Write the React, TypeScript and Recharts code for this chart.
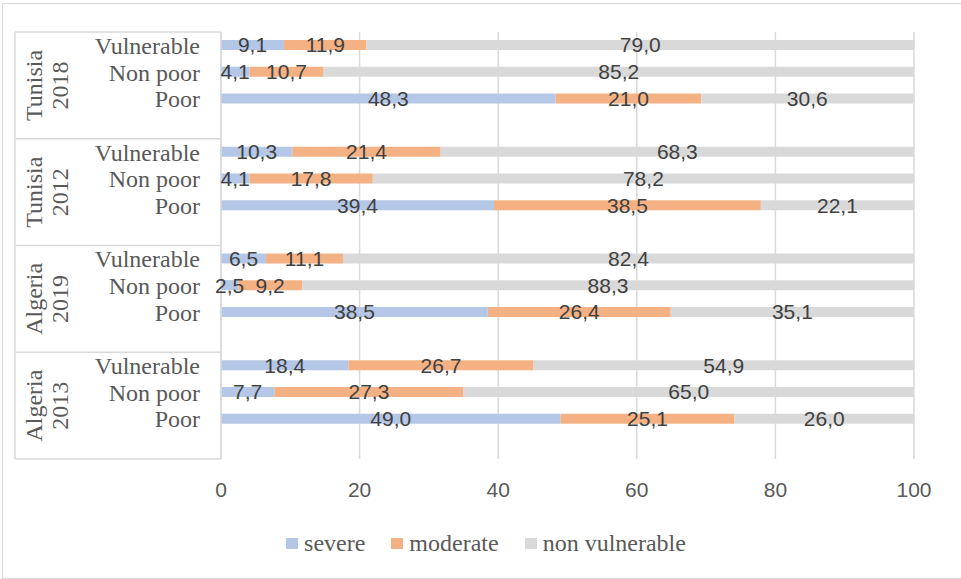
import React from 'react';
import { BarChart, Bar, XAxis, YAxis, CartesianGrid, Legend, LabelList } from 'recharts';

const groups = ['Tunisia 2018', 'Tunisia 2012', 'Algeria 2019', 'Algeria 2013'];
const rowLabels = ['Vulnerable', 'Non poor', 'Poor'];

// per group: Vulnerable, Non poor, Poor
const severe = [
  [9.1, 4.1, 48.3],
  [10.3, 4.1, 39.4],
  [6.5, 2.5, 38.5],
  [18.4, 7.7, 49.0],
];
const moderate = [
  [11.9, 10.7, 21.0],
  [21.4, 17.8, 38.5],
  [11.1, 9.2, 26.4],
  [26.7, 27.3, 25.1],
];
const nonVulnerable = [
  [79.0, 85.2, 30.6],
  [68.3, 78.2, 22.1],
  [82.4, 88.3, 35.1],
  [54.9, 65.0, 26.0],
];
const xTicks = [0, 20, 40, 60, 80, 100];

const seriesColors = { severe: '#B4C7E7', moderate: '#F4B183', nonVulnerable: '#D9D9D9' };

type Row = {
  key: string;
  label: string;
  group: number;
  pos: number; // 0..3, 3 = blank spacer row
  severe: number | null;
  moderate: number | null;
  nonVulnerable: number | null;
};

const rows: Row[] = [];
groups.forEach((g, gi) => {
  rowLabels.forEach((r, ri) => {
    rows.push({
      key: `${g}-${r}`,
      label: r,
      group: gi,
      pos: ri,
      severe: severe[gi][ri],
      moderate: moderate[gi][ri],
      nonVulnerable: nonVulnerable[gi][ri],
    });
  });
  rows.push({ key: `${g}-blank`, label: '', group: gi, pos: 3, severe: null, moderate: null, nonVulnerable: null });
});

const W = 961;
const H = 579;
const PLOT_TOP = 32;
const PLOT_H = 427;
const AXIS_W = 221;
const BOX_LEFT = 15;
const halfBand = PLOT_H / rows.length / 2;
const SERIF = "'Liberation Serif', 'Times New Roman', serif";
const SANS = "'Liberation Sans', Arial, sans-serif";

const fmt = (v: any) => (v == null ? '' : Number(v).toFixed(1).replace('.', ','));

const CategoryTick = (props: any) => {
  const { y, payload } = props;
  const row = rows[payload.index];
  if (!row) return null;
  const items: React.ReactNode[] = [];
  if (row.label) {
    items.push(
      <text key="t" x={200} y={y} dy={8.5} textAnchor="end" fontFamily={SERIF} fontSize={24} fill="#595959">
        {row.label}
      </text>
    );
  }
  if (row.pos === 0) {
    const top = y - halfBand;
    const bottom = top + halfBand * 8;
    const mid = (top + bottom) / 2;
    const [name, year] = groups[row.group].split(' ');
    items.push(<line key="top" x1={BOX_LEFT} x2={AXIS_W} y1={top} y2={top} stroke="#D9D9D9" strokeWidth={1.5} />);
    items.push(<line key="left" x1={BOX_LEFT} x2={BOX_LEFT} y1={top} y2={bottom} stroke="#D9D9D9" strokeWidth={1.5} />);
    items.push(
      <text key="g1" x={42} y={mid} transform={`rotate(-90 42 ${mid})`} textAnchor="middle" fontFamily={SERIF} fontSize={24} fill="#595959">
        {name}
      </text>
    );
    items.push(
      <text key="g2" x={68} y={mid} transform={`rotate(-90 68 ${mid})`} textAnchor="middle" fontFamily={SERIF} fontSize={24} fill="#595959">
        {year}
      </text>
    );
  }
  if (payload.index === rows.length - 1) {
    const b = y + halfBand;
    items.push(<line key="bot" x1={BOX_LEFT} x2={AXIS_W} y1={b} y2={b} stroke="#D9D9D9" strokeWidth={1.5} />);
  }
  return <g>{items}</g>;
};

const ValueTick = (props: any) => {
  const { x, y, payload } = props;
  return (
    <text x={x} y={y} dy={30} textAnchor="middle" fontFamily={SANS} fontSize={21} fill="#595959">
      {payload.value}
    </text>
  );
};

const legendItems = [
  { name: 'severe', color: seriesColors.severe },
  { name: 'moderate', color: seriesColors.moderate },
  { name: 'non vulnerable', color: seriesColors.nonVulnerable },
];

const LegendContent = () => (
  <div style={{ height: 32, display: 'flex', justifyContent: 'center', alignItems: 'center', gap: 26, paddingLeft: 58, fontFamily: SERIF }}>
    {legendItems.map((it) => (
      <div key={it.name} style={{ display: 'flex', alignItems: 'center', gap: 6 }}>
        <div style={{ width: 12, height: 11, background: it.color }} />
        <span style={{ fontFamily: SERIF, fontSize: 24, color: '#595959', lineHeight: '32px' }}>{it.name}</span>
      </div>
    ))}
  </div>
);

const labelProps = { position: 'center' as const, formatter: fmt, fill: '#404040', fontSize: 21, fontFamily: SANS };

export default function App() {
  return (
    <div style={{ position: 'absolute', left: 0, top: 0, width: W, height: H, overflow: 'hidden', background: '#fff' }}>
      <div style={{ position: 'absolute', left: 2, top: 3, width: 970, height: 574, border: '1px solid #D9D9D9' }} />
      <BarChart
        width={W}
        height={H}
        data={rows}
        layout="vertical"
        barSize={10}
        margin={{ top: PLOT_TOP, right: W - 914, bottom: 20, left: 0 }}
      >
        <CartesianGrid horizontal={false} stroke="#D9D9D9" strokeWidth={1.5} />
        <XAxis
          type="number"
          domain={[0, 100]}
          ticks={xTicks}
          allowDataOverflow
          axisLine={false}
          tickLine={false}
          height={68}
          tick={<ValueTick />}
        />
        <YAxis
          type="category"
          dataKey="key"
          width={AXIS_W}
          axisLine={{ stroke: '#D9D9D9', strokeWidth: 1.5 }}
          tickLine={false}
          interval={0}
          tick={<CategoryTick />}
        />
        <Legend verticalAlign="bottom" content={<LegendContent />} />
        <Bar dataKey="severe" stackId="a" fill={seriesColors.severe} isAnimationActive={false}>
          <LabelList dataKey="severe" {...labelProps} />
        </Bar>
        <Bar dataKey="moderate" stackId="a" fill={seriesColors.moderate} isAnimationActive={false}>
          <LabelList dataKey="moderate" {...labelProps} />
        </Bar>
        <Bar dataKey="nonVulnerable" stackId="a" fill={seriesColors.nonVulnerable} isAnimationActive={false}>
          <LabelList dataKey="nonVulnerable" {...labelProps} />
        </Bar>
      </BarChart>
    </div>
  );
}
